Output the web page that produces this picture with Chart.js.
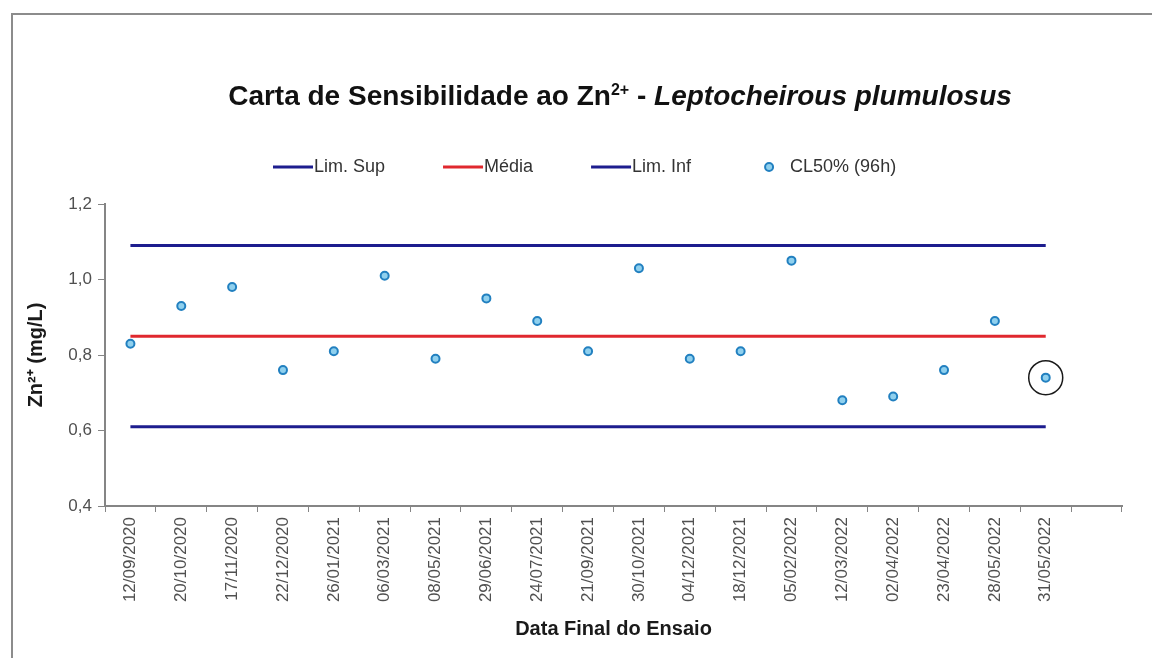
<!DOCTYPE html>
<html>
<head>
<meta charset="utf-8">
<script src="https://cdn.jsdelivr.net/npm/chart.js@4.4.0/dist/chart.umd.min.js"></script>
<style>
  html, body { margin: 0; padding: 0; background: #fff; }
  body { width: 1152px; height: 658px; overflow: hidden; position: relative; }
  #frame { position: absolute; left: 11px; top: 13px; width: 1141px; height: 645px;
           border-top: 2px solid #8c8c8c; border-left: 2px solid #8c8c8c; }
  #wrap { position: relative; width: 1139px; height: 643px; }
</style>
</head>
<body>
<div id="frame"><div id="wrap"><canvas id="sensChart"></canvas></div></div>
<script>
// x categories (last slot is empty, like in the spreadsheet)
const dates = ['12/09/2020', '20/10/2020', '17/11/2020', '22/12/2020', '26/01/2021', '06/03/2021',
               '08/05/2021', '29/06/2021', '24/07/2021', '21/09/2021', '30/10/2021', '04/12/2021',
               '18/12/2021', '05/02/2022', '12/03/2022', '02/04/2022', '23/04/2022', '28/05/2022',
               '31/05/2022', ''];

// CL50% (96h) results, mg/L
const cl50 = [0.83, 0.93, 0.98, 0.76, 0.81, 1.01, 0.79, 0.95, 0.89, 0.81,
              1.03, 0.79, 0.81, 1.05, 0.68, 0.69, 0.76, 0.89, 0.74];

// control limits and mean
const limSup = [1.09, 1.09, 1.09, 1.09, 1.09, 1.09, 1.09, 1.09, 1.09, 1.09,
                1.09, 1.09, 1.09, 1.09, 1.09, 1.09, 1.09, 1.09, 1.09];
const media = [0.85, 0.85, 0.85, 0.85, 0.85, 0.85, 0.85, 0.85, 0.85, 0.85,
               0.85, 0.85, 0.85, 0.85, 0.85, 0.85, 0.85, 0.85, 0.85];
const limInf = [0.61, 0.61, 0.61, 0.61, 0.61, 0.61, 0.61, 0.61, 0.61, 0.61,
                0.61, 0.61, 0.61, 0.61, 0.61, 0.61, 0.61, 0.61, 0.61];

const yTicks = [0.4, 0.6, 0.8, 1.0, 1.2];
const highlightIndex = 18; // circled result (last test)

const FONT = "'Liberation Sans', Arial, sans-serif";
const AXIS = '#858585';
Chart.defaults.font.family = FONT;

// title + legend drawn by hand (mixed bold / italic / superscript)
const header = {
    id: 'header',
    afterDraw(chart) {
        const ctx = chart.ctx;
        ctx.save();

        const parts = [
            { t: 'Carta de Sensibilidade ao Zn', f: 'bold 28px ' + FONT, dy: 0 },
            { t: '2+', f: 'bold 16px ' + FONT, dy: -10 },
            { t: ' - ', f: 'bold 28px ' + FONT, dy: 0 },
            { t: 'Leptocheirous plumulosus', f: 'italic bold 28px ' + FONT, dy: 0 }
        ];
        let w = 0;
        parts.forEach(p => { ctx.font = p.f; p.w = ctx.measureText(p.t).width; w += p.w; });
        let x = 607 - w / 2;
        ctx.fillStyle = '#111';
        ctx.textBaseline = 'alphabetic';
        parts.forEach(p => { ctx.font = p.f; ctx.fillText(p.t, x, 90 + p.dy); x += p.w; });

        // legend
        const ly = 152;
        ctx.font = '18px ' + FONT;
        ctx.textBaseline = 'middle';
        x = 260;
        chart.data.datasets.filter(d => d.label).forEach(d => {
            if (d.showLine === false) {
                ctx.beginPath();
                ctx.arc(x + 20, ly, d.pointRadius, 0, Math.PI * 2);
                ctx.fillStyle = d.pointBackgroundColor;
                ctx.fill();
                ctx.lineWidth = d.pointBorderWidth;
                ctx.strokeStyle = d.pointBorderColor;
                ctx.stroke();
            } else {
                ctx.beginPath();
                ctx.moveTo(x, ly);
                ctx.lineTo(x + 40, ly);
                ctx.lineWidth = d.borderWidth;
                ctx.strokeStyle = d.borderColor;
                ctx.stroke();
            }
            ctx.fillStyle = '#333';
            ctx.fillText(d.label, x + 41, ly);
            x += 41 + ctx.measureText(d.label).width + 58;
        });
        ctx.restore();
    }
};

const ctx = document.getElementById('sensChart').getContext('2d');
const chart = new Chart(ctx, {
    type: 'line',
    data: {
        labels: dates,
        datasets: [
            { label: 'Lim. Sup', data: limSup, borderColor: '#1d1d8e', borderWidth: 3, pointRadius: 0, order: 1 },
            { label: 'Média', data: media, borderColor: '#e0282e', borderWidth: 3, pointRadius: 0, order: 1 },
            { label: 'Lim. Inf', data: limInf, borderColor: '#1d1d8e', borderWidth: 3, pointRadius: 0, order: 1 },
            {
                label: 'CL50% (96h)', data: cl50, showLine: false, order: 0,
                pointRadius: 4, pointBorderWidth: 2,
                pointBorderColor: '#2280c0', pointBackgroundColor: '#8fd0ee',
                borderColor: '#2280c0', backgroundColor: '#8fd0ee'
            },
            {
                data: cl50.map((v, i) => i === highlightIndex ? v : null),
                showLine: false, order: 0,
                pointRadius: 17, pointBorderWidth: 1.5,
                pointBorderColor: '#1a1a1a', pointBackgroundColor: 'rgba(0,0,0,0)'
            }
        ]
    },
    options: {
        responsive: true,
        maintainAspectRatio: false,
        animation: false,
        layout: { padding: { left: 0, right: 30, top: 189, bottom: 0 } },
        plugins: {
            legend: { display: false },
            tooltip: { enabled: false }
        },
        scales: {
            x: {
                offset: true,
                grid: { offset: true, drawOnChartArea: false, tickLength: 6, color: AXIS },
                border: { color: AXIS, width: 2 },
                ticks: {
                    autoSkip: false, minRotation: 90, maxRotation: 90, padding: 5,
                    color: '#505050', font: { size: 17 }
                },
                title: {
                    display: true, text: 'Data Final do Ensaio', color: '#1a1a1a',
                    font: { size: 20, weight: 'bold' }, padding: { top: 0, bottom: 17 }
                },
                afterFit(s) { s.height = 152; }
            },
            y: {
                min: yTicks[0],
                max: yTicks[yTicks.length - 1],
                afterBuildTicks(s) { s.ticks = yTicks.map(v => ({ value: v })); },
                grid: { drawOnChartArea: false, tickLength: 7, color: AXIS },
                border: { color: AXIS, width: 2 },
                ticks: {
                    padding: 6, color: '#505050', font: { size: 17 },
                    callback: v => v.toFixed(1).replace('.', ',')
                },
                title: {
                    display: true, text: 'Zn²⁺ (mg/L)', color: '#1a1a1a',
                    font: { size: 20, weight: 'bold' }, padding: { top: 11, bottom: 0 }
                },
                afterFit(s) { s.width = 92; }
            }
        }
    },
    plugins: [header]
});
</script>
</body>
</html>
